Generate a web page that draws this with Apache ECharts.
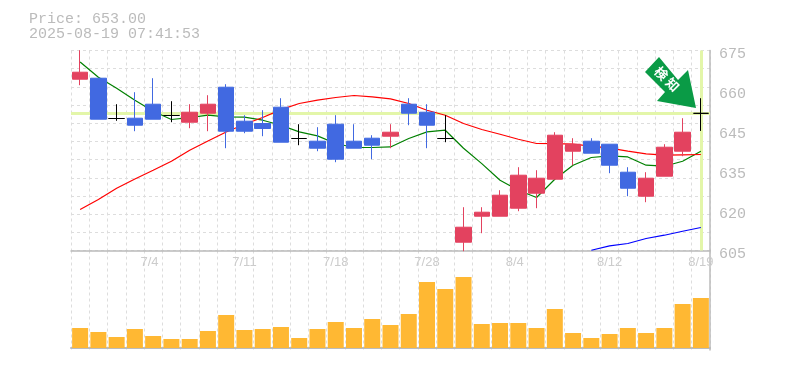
<!DOCTYPE html>
<html><head><meta charset="utf-8">
<style>html,body{margin:0;padding:0;background:#fff}#c{width:785px;height:370px}</style>
<script src="https://cdn.jsdelivr.net/npm/echarts@6/dist/echarts.min.js"></script>
</head><body><div id="c"></div>
<script>
const titleLines = ['Price: 653.00', '2025-08-19 07:41:53'];
const dates = ['6/30','7/1','7/2','7/3','7/4','7/7','7/8','7/9','7/10','7/11','7/14','7/15','7/16','7/17','7/18','7/22','7/23','7/24','7/25','7/28','7/29','7/30','7/31','8/1','8/4','8/5','8/6','8/7','8/8','8/12','8/13','8/14','8/15','8/18','8/19'];
const opens  = [664.95,665.3,651.2,651.3,656.2,652.25,649.9,653.05,662.15,650.25,649.45,655.15,644.2,643.25,649.2,643.25,644.3,645,656.2,653.4,644.2,607.9,617,617,619.8,625.05,629.95,639.75,643.25,642.2,632.4,624,631,639.75,653];
const closes = [667.4,650.95,651.2,648.85,650.95,652.25,653.4,656.2,646.75,646.75,647.7,642.9,644.2,640.8,636.95,640.8,641.85,646.4,653.05,648.85,644.2,613.15,618.4,624.35,631.35,630.3,645.35,642.2,639.05,634.85,626.8,630.3,641.15,646.4,653];
const lows   = [662.85,650.95,650.4,646.75,650.95,649.9,647.8,646.75,640.8,646.05,645,642.9,641.85,639.75,635.9,640.8,636.95,640.8,648.85,640.8,642.9,604.75,611.05,617,618.75,619.8,629.95,634.85,639.05,632.05,624,621.9,631,638,646.85];
const highs  = [675.1,665.3,656.2,660.4,665.3,657.25,656.2,659.35,663.2,652.35,654.1,658.3,649.2,648.15,652.35,649.2,645.35,649.2,658.3,656.2,652.35,620.15,620.15,626.1,634.15,633.1,646.4,644.3,644.3,642.2,634.15,632.4,642.2,651.3,658.3];
const maShort = [671,665.65,661.8,657.6,653.75,650.85,651.5,652.35,651.8,651.65,650.6,648.85,646.5,645.1,642.45,641.05,641.05,641.25,644.2,646.5,647.1,640.8,635.4,629.6,626.1,623.55,629.95,634.85,637.55,638.15,637.75,634.85,634.5,636.25,639.75];
const maMid = [619.35,622.85,626.8,630.05,633.1,636.25,640.1,643.35,646.5,649.2,651.55,654.3,656.45,657.6,658.55,659.25,658.75,658.05,656.45,654.1,652.35,649.45,647.35,645.7,643.95,642.45,642.4,642.2,641.5,640.8,639.75,638.8,638.35,638.5,638.6];
const maLong = [null,null,null,null,null,null,null,null,null,null,null,null,null,null,null,null,null,null,null,null,null,null,null,null,null,null,null,null,605.1,606.6,607.45,609.2,610.35,611.75,613.05];
const volumes = [200,160,110,190,120,90,90,170,330,180,190,210,100,190,260,200,290,230,340,660,590,710,240,250,250,200,390,150,100,140,200,150,200,440,500];
const priceTickValues = [605,619,633,647,661,675];
const priceTickLabels = ['605','620','635','645','660','675'];
const lastPrice = 653;
const lastDate = '8/19';
const labelledDates = ['7/4','7/11','7/18','7/28','8/4','8/12','8/19'];

const grey='#bbbbbb', gridc='#dddddd', hi='#e3f6a9', red='#e3425f', blue='#4169e1';
const candles = dates.map((d,i)=>{
  const doji = opens[i]===closes[i];
  const item = {value:[opens[i],closes[i],lows[i],highs[i]]};
  if(doji) item.itemStyle={color:'#000',color0:'#000',borderColor:'#000',borderColor0:'#000',borderColorDoji:'#000'};
  return item;
});
const dash = {color:gridc,type:[3,3],width:1};
const xBase = {type:'category',data:dates,boundaryGap:true,axisTick:{show:false},splitLine:{show:true,interval:0,lineStyle:dash}};
const chart = echarts.init(document.getElementById('c'),null,{renderer:'canvas'});
chart.setOption({
  animation:false,
  backgroundColor:'#fff',
  title:{text:titleLines.join('\n'),left:24,top:7,textStyle:{fontFamily:'Liberation Mono',fontSize:15,fontWeight:'normal',color:grey,lineHeight:15}},
  grid:[{left:71,right:75,top:50.5,height:200},{left:71,right:75,top:250.5,height:99.5}],
  xAxis:[
    Object.assign({},xBase,{gridIndex:0,axisLine:{show:true,lineStyle:{color:grey,width:1.5}},
      axisLabel:{show:true,interval:i=>labelledDates.includes(dates[i]),color:'#cccccc',fontFamily:'Liberation Sans',fontSize:13,margin:5.5,
        formatter:v=>v.length===3?v+'  ':v}}),
    Object.assign({},xBase,{gridIndex:1,axisLine:{show:true,lineStyle:{color:grey,width:2}},axisLabel:{show:false}})
  ],
  yAxis:[
    {type:'value',gridIndex:0,position:'right',min:605,max:675,
      axisLine:{show:true,lineStyle:{color:grey,width:1.5}},axisTick:{show:false},splitLine:{show:false},
      axisLabel:{color:grey,fontFamily:'Liberation Mono',fontSize:15,margin:9,verticalAlign:'top',lineHeight:7,customValues:priceTickValues,
        formatter:v=>priceTickLabels[priceTickValues.indexOf(v)]}},
    {type:'value',gridIndex:0,position:'left',min:0,max:11,interval:1,axisLine:{show:false},axisTick:{show:false},axisLabel:{show:false},splitLine:{show:true,lineStyle:dash}},
    {type:'value',gridIndex:1,position:'right',min:-20,max:975,axisLine:{show:true,lineStyle:{color:grey,width:1.5}},axisTick:{show:false},axisLabel:{show:false},splitLine:{show:false}}
  ],
  series:[
    {type:'line',name:'highlight',xAxisIndex:0,yAxisIndex:0,data:[],z:1,silent:true,
      markLine:{z:1,silent:true,symbol:'none',label:{show:false},animation:false,lineStyle:{color:hi,width:3,type:'solid'},
        data:[{yAxis:lastPrice},{xAxis:lastDate}]}},
    {type:'line',name:'short',data:maShort,xAxisIndex:0,yAxisIndex:0,symbol:'none',z:2,lineStyle:{color:'#008000',width:1.2}},
    {type:'line',name:'mid',data:maMid,xAxisIndex:0,yAxisIndex:0,symbol:'none',z:2,lineStyle:{color:'#ff0000',width:1.2}},
    {type:'line',name:'long',data:maLong,xAxisIndex:0,yAxisIndex:0,symbol:'none',z:2,lineStyle:{color:'#0000ff',width:1.2}},
    {type:'candlestick',xAxisIndex:0,yAxisIndex:0,data:candles,barWidth:16,z:3,clip:true,
      itemStyle:{color:red,color0:blue,borderColor:red,borderColor0:blue,borderWidth:1,borderColorDoji:'#000'}},
    {type:'bar',xAxisIndex:1,yAxisIndex:2,data:volumes,barWidth:16,z:3,itemStyle:{color:'#ffb833'}}
  ],
  graphic:[
    {type:'polygon',z:10,shape:{points:[[659,57],[645,72],[665,92],[657,101],[696,108],[688,70],[678,80]]},style:{fill:'#0a9b46'}},
    {type:'text',z:11,x:667,y:79,rotation:-Math.PI/4,style:{text:'検 知',fill:'#fff',font:'bold 13px "Noto Sans CJK JP"',align:'center',verticalAlign:'middle'}}
  ]
});
</script></body></html>
